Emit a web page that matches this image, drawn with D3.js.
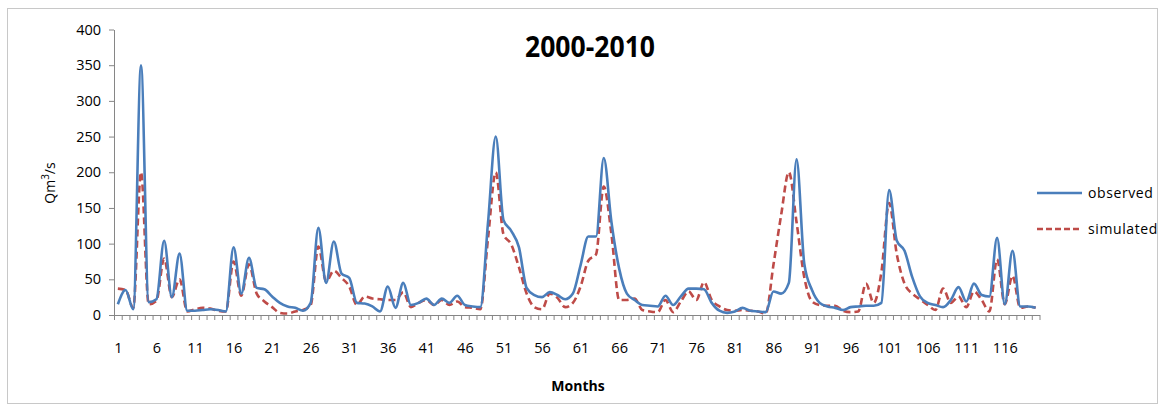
<!DOCTYPE html>
<html><head><meta charset="utf-8">
<script src="https://cdn.jsdelivr.net/npm/d3@7"></script>
<style>
html,body{margin:0;padding:0;background:#fff;}
svg{display:block;}
text{font-family:"Open Sans",sans-serif;fill:#000;}
</style></head>
<body>
<script>
const months = d3.range(1, 121);
const observed = [15,35,8,350,18,22,104,25,86,6,
6,7,8,7,5,95,30,80,38,36,
26,17,12,10,6,17,122,45,103,58,
52,17,16,12,5,40,10,45,14,17,
23,14,23,17,27,14,12,11,130,250,
133,118,95,38,28,25,32,28,22,30,
70,110,110,220,130,65,30,21,14,13,
12,27,14,26,37,37,36,17,6,3,
5,10,6,5,4,33,30,45,218,72,
35,17,12,10,7,11,12,13,13,17,
175,104,90,53,26,17,14,11,21,39,
19,44,28,26,108,15,90,12,12,10];
const simulated = [37,35,10,200,15,20,79,25,50,5,
8,10,9,6,5,75,27,71,30,19,
11,3,2,5,7,14,96,47,62,52,
40,14,26,23,22,21,21,32,11,17,
21,14,21,14,19,11,10,8,108,200,
113,99,67,30,11,8,30,24,11,17,
40,76,85,180,113,21,21,23,7,5,
4,21,4,19,33,21,46,21,12,7,
6,7,6,5,2,70,140,200,130,53,
19,14,13,13,6,4,5,44,17,60,
157,85,44,30,22,14,7,37,17,26,
11,33,21,5,78,15,55,10,12,10];
const yTicks = [0,50,100,150,200,250,300,350,400];
const xTickLabels = [1,6,11,16,21,26,31,36,41,46,51,56,61,66,71,76,81,86,91,96,101,106,111,116];
const seriesNames = ["observed","simulated"];
const titleText = "2000-2010";

const W = 1164, H = 411;
const svg = d3.select("body").append("svg").attr("width", W).attr("height", H);

svg.append("rect").attr("x", 7.5).attr("y", 8.5).attr("width", 1150).attr("height", 395)
  .attr("fill", "#fff").attr("stroke", "#c8c8c8").attr("stroke-width", 1);

const x = d3.scaleLinear().domain([0.5, 120.5]).range([114, 1039.5]);
const y = d3.scaleLinear().domain([0, 400]).range([315, 29.5]);
const axisColor = "#868686";

// y axis
const gy = svg.append("g").attr("transform", `translate(${x(0.5)},0)`)
  .call(d3.axisLeft(y).tickValues(yTicks).tickSize(5).tickSizeOuter(0).tickPadding(8));
gy.select(".domain").attr("stroke", axisColor);
gy.selectAll(".tick line").attr("stroke", axisColor);
gy.selectAll(".tick text").attr("font-size", "14.5px").attr("font-family", "Open Sans").attr("fill", "#222");

// x axis ticks at category boundaries
const gx = svg.append("g").attr("transform", `translate(0,${y(0)})`)
  .call(d3.axisBottom(x).tickValues(d3.range(0.5, 121, 1)).tickSize(5).tickSizeOuter(0).tickFormat(""));
gx.select(".domain").attr("stroke", axisColor);
gx.selectAll(".tick line").attr("stroke", axisColor);

const gxl = svg.append("g").attr("transform", `translate(0,${y(0)})`)
  .call(d3.axisBottom(x).tickValues(xTickLabels).tickSize(0).tickPadding(28));
gxl.select(".domain").remove();
gxl.selectAll(".tick text").attr("font-size", "14.5px").attr("font-family", "Open Sans").attr("fill", "#222");

// lines
const colors = ["#4A7EBB", "#BE4B48"];
const line = d3.line().x((d, i) => x(months[i])).y(d => y(d)).curve(d3.curveMonotoneX);
svg.append("path").datum(simulated).attr("d", line).attr("fill", "none")
  .attr("stroke", colors[1]).attr("stroke-width", 2.6).attr("stroke-dasharray", "7,4");
svg.append("path").datum(observed).attr("d", line).attr("fill", "none")
  .attr("stroke", colors[0]).attr("stroke-width", 2.6);

// title
svg.append("text").attr("x", 590).attr("y", 57).attr("text-anchor", "middle")
  .attr("font-size", "28px").attr("font-weight", "bold").attr("textLength", 130)
  .attr("lengthAdjust", "spacingAndGlyphs").text(titleText);

// axis titles
svg.append("text").attr("transform", "translate(55,183) rotate(-90)").attr("text-anchor", "middle")
  .attr("font-size", "14px").attr("fill", "#222").html("Qm<tspan dy='-6' font-size='10px'>3</tspan><tspan dy='6'>/s</tspan>");
svg.append("text").attr("x", 578).attr("y", 391).attr("text-anchor", "middle")
  .attr("font-size", "14px").attr("font-weight", "bold").attr("fill", "#222").text("Months");

// legend
const leg = svg.append("g");
seriesNames.forEach((n, i) => {
  const ly = 193 + i * 36;
  leg.append("line").attr("x1", 1037).attr("x2", 1082).attr("y1", ly).attr("y2", ly)
    .attr("stroke", colors[i]).attr("stroke-width", 2.6)
    .attr("stroke-dasharray", i === 1 ? "6,3" : null);
  leg.append("text").attr("x", 1088).attr("y", ly + 5).attr("font-size", "14px")
    .attr("letter-spacing", "0.6px").attr("fill", "#222").text(n);
});
</script>
</body></html>
